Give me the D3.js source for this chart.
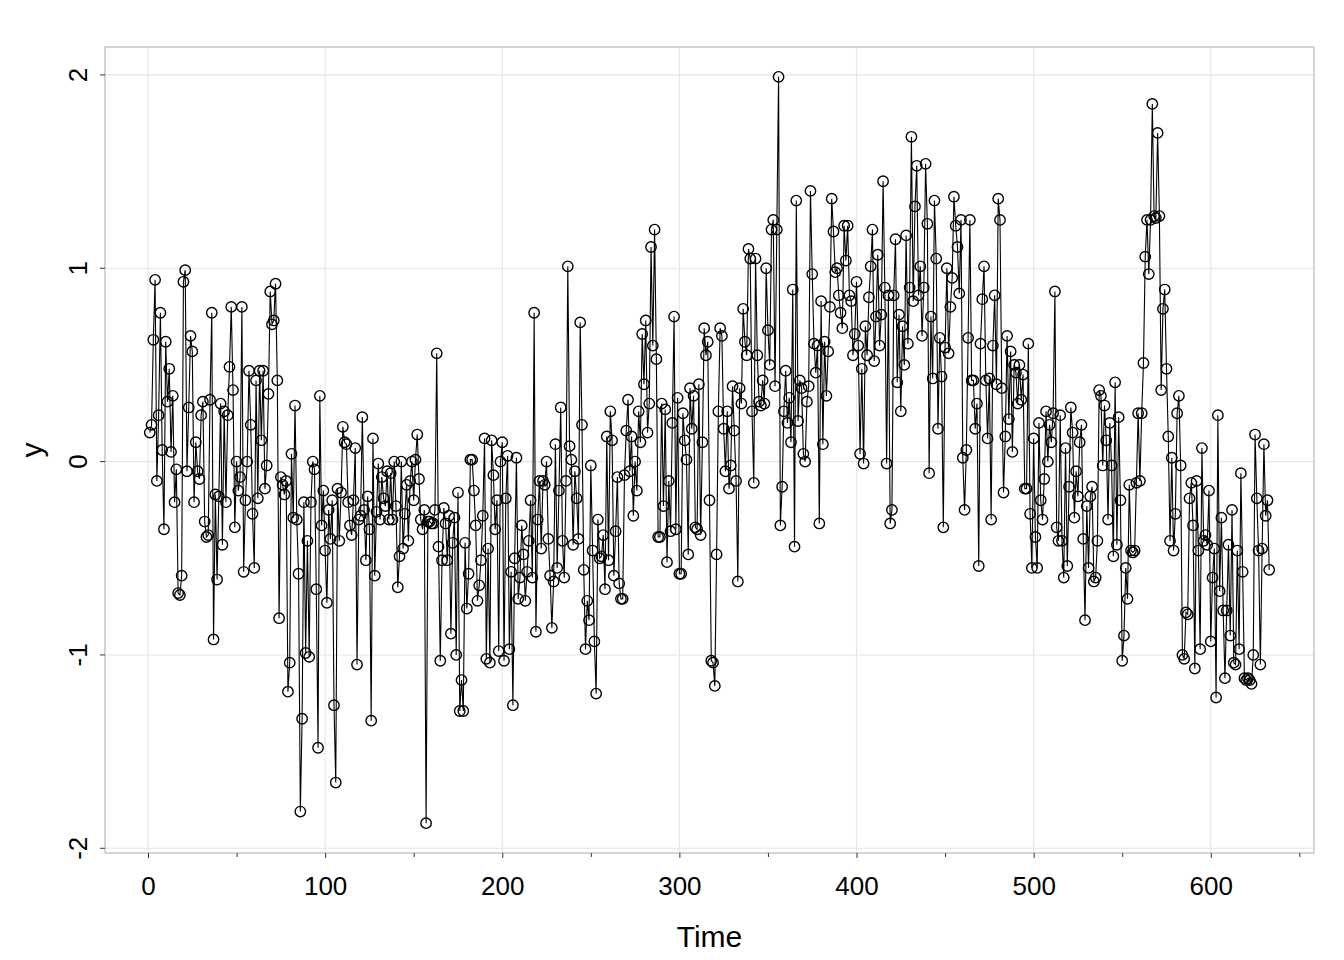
<!DOCTYPE html>
<html><head><meta charset="utf-8">
<script src="https://cdn.jsdelivr.net/npm/d3@7"></script>
<style>body{margin:0;background:#fff}svg{display:block}text{font-family:"Liberation Sans",Arial,sans-serif}</style>
</head><body><svg id="c" width="1344" height="960"></svg>
<script>
const ySeg1 = [0.15,0.19,0.63,0.94,-0.10,0.24,0.77,0.06,-0.35,0.62,
0.31,0.48,0.05,0.34,-0.21,-0.04,-0.68,-0.69,-0.59,0.93,
0.99,-0.05,0.28,0.65,0.57,-0.21,0.10,-0.05,-0.09,0.24,
0.31,-0.31,-0.39,-0.38,0.32,0.77,-0.92,-0.17,-0.61,-0.18,
0.30,-0.43,0.26,-0.21,0.24,0.49,0.80,0.37,-0.34,0.00,
-0.15,-0.08,0.80,-0.57,-0.20,0.00,0.47,0.19,-0.27,-0.55,
0.42,-0.19,0.47,0.11,0.47,-0.14,-0.02,0.35,0.88,0.71,
0.73,0.92,0.42,-0.81,-0.08,-0.12,-0.17,-0.10,-1.19,-1.04,
0.04,-0.29,0.29,-0.30,-0.58,-1.81,-1.33,-0.21,-0.99,-0.41,
-1.01,-0.21,0.00,-0.04,-0.66,-1.48,0.34,-0.33,-0.15,-0.46,
-0.73,-0.25,-0.40,-0.20,-1.26,-1.66,-0.14,-0.41,-0.16,0.18,
0.10,0.09,-0.21,-0.33,-0.38,-0.20,0.07,-1.05,-0.30,-0.28,
0.23,-0.25,-0.51,-0.18,-0.35,-1.34,0.12,-0.59,-0.26,-0.01,
-0.30,-0.08,-0.19];
const ySeg2 = [-0.23,-0.05,-0.30,-0.06,-0.30,0.00,-0.23,-0.65,-0.49,0.00,
-0.45,-0.27,-0.12,-0.41,-0.10,0.00,-0.20,0.01,0.14,-0.09,-0.30,-0.35,-0.25,-1.87,
-0.31,-0.31,-0.32,-0.32,-0.25,0.56,-0.44,-1.03,-0.51,-0.24,
-0.32,-0.51,-0.28,-0.89,-0.42,-0.29,-1.00,-0.16,-1.29,-1.13,
-1.29,-0.42,-0.76,-0.58,0.01,0.01,-0.15,-0.33,-0.72,-0.64,
-0.51,-0.28,0.12,-1.02,-0.45,-1.04,0.11,-0.07,-0.35,-0.20];
const ySeg3 = [-0.98,0.00,0.10,-1.03,-0.19,0.03,-0.97,-0.57,-1.26,-0.50,0.02,
-0.71,-0.60,-0.33,-0.48,-0.72,-0.57,-0.41,-0.20,-0.60,0.77,-0.88,-0.30,
-0.10,-0.45,-0.10,-0.12,0.00,-0.40,-0.59,-0.86,-0.62,0.09,-0.55,-0.15,
0.28,-0.41,-0.60,-0.10,1.01,0.08,0.01,-0.43,-0.05,-0.19,-0.40,
0.72,0.19,-0.56,-0.97,-0.72,-0.82,-0.02,-0.46,-0.93,-1.20,
-0.30,-0.50,-0.49,-0.38,-0.66,0.13,-0.51,0.26,0.11,-0.59,
-0.36,-0.08,-0.63,-0.71,-0.71,-0.07,0.16];
const ySeg4 = [0.32,-0.05,0.13,-0.28,0.00,-0.15,0.26,0.10,0.66,0.40,
0.73,0.15,0.30,1.11,0.60,1.20,0.53,-0.39,-0.39,0.30,
-0.23,0.27,-0.52,-0.10,-0.36,0.20,0.75,-0.35,0.33,-0.58,
-0.58,0.25,0.11,0.01,-0.48,0.38,0.17,0.34,-0.34,-0.35,
0.40,-0.38,0.10,0.69,0.55,0.62,-0.20,-1.03,-1.04,-1.16,
-0.48,0.26,0.69,0.65,0.17,-0.05,0.26,-0.14,-0.02,0.39,
0.16,-0.10,-0.62,0.38,0.30,0.79];
const ySeg5 = [0.62,0.55,1.10,1.05,0.26,-0.11,1.05,0.55,0.31,0.29,
0.42,0.30,1.00,0.68,0.50,1.20,1.25,0.39,1.20,1.99,
-0.33,-0.13,0.26,0.47,0.20,0.33,0.10,0.89,-0.44,1.35,
0.21,0.42,0.38,0.04,0.00,0.31,0.39,1.40,0.97,0.61,
0.46,0.60,-0.32,0.83,0.09,0.62,0.34,0.57,0.80,1.36,
1.19,0.98,1.00,0.86,0.77,0.69,1.22,1.04,1.22,0.86,
0.83,0.55,0.66,0.93,0.60,0.04,0.48,-0.01];
const ySeg6 = [0.70,0.55,0.85,1.01,1.20,0.52,0.75,1.07,0.60,0.76,
1.45,0.90,-0.01,0.86,-0.32,-0.25,0.86,1.15,0.41,0.76,
0.26,0.70,0.50,1.17,0.61,0.90,1.68,0.83,1.32,1.53,
0.86,1.01,0.65,0.90,1.54,1.23,-0.06,0.75,0.43,1.35,
1.05,0.17,0.64,0.44,-0.34,0.59,1.00,0.56,0.80,0.95,
1.37,1.22,1.11,0.87,1.25,0.02,-0.25,0.06,0.64,1.25,
0.42,0.42,0.17,0.30,-0.54,0.61,0.84,1.01];
const ySeg7 = [0.42,0.12,0.43,-0.30,0.60,0.86,0.40,1.36,1.25,0.38,
-0.16,0.13,0.65,0.22,0.57,0.05,0.50,0.46,0.30,0.50,
0.32,0.45,-0.14,-0.14,0.61,-0.27,-0.55,0.12,-0.39,
-0.55,0.20,-0.20,-0.30,-0.09,0.26,0.00,0.19,0.10,
0.25,0.88,-0.34,-0.41,0.24,-0.41,-0.60,0.07,-0.54,-0.13,
0.28,0.15,-0.29,-0.05,-0.18,0.10,0.19,-0.40,-0.82,-0.23,
-0.55,-0.18,-0.13,-0.62,-0.60,-0.41,0.37,0.34];
const ySeg8 = [-0.02,0.29,0.11,-0.30,0.20,-0.02,-0.49,0.41,-0.43,0.23,
-0.20,-1.03,-0.90,-0.55,-0.71,-0.12,-0.46,-0.47,-0.46,-0.11,
0.25,-0.10,0.25,0.51,1.06,1.25,0.97,1.25,1.85,1.27,
1.26,1.70,1.27,0.37,0.79,0.89,0.48,0.13,-0.41,0.02,
-0.46,-0.27,0.25,0.34,-0.02,-1.00,-1.02,-0.78,-0.79,-0.19,
-0.11,-0.33,-1.07,-0.10,-0.46,-0.97,0.07,-0.41,-0.38,-0.43,-0.15,-0.93];
const ySeg9 = [-0.60,-0.45,-1.22,0.24,-0.67,-0.29,-0.77,-1.12,-0.77,-0.43,
-0.90,-0.25,-1.04,-1.05,-0.46,-0.97,-0.06,-0.57,-1.12,-1.13,
-1.12,-1.13,-1.15,-1.00,0.14,-0.19,-0.46,-1.05,-0.45,0.09,-0.28,-0.20,-0.56];
const xTicks = [0,100,200,300,400,500,600];
const xMinorTicks = [50,150,250,350,450,550,650];
const yTicks = [-2,-1,0,1,2];
const xTitle = "Time", yTitle = "y";

const values = [].concat(ySeg1,ySeg2,ySeg3,ySeg4,ySeg5,ySeg6,ySeg7,ySeg8,ySeg9);
const data = values.map((v,i)=>({t:i+1,y:v}));

const L=105,R=1314,T=47,B=853;
const xe=d3.extent(data,d=>d.t), ye=d3.extent(data,d=>d.y);
const xp=(xe[1]-xe[0])*0.04, yp=(ye[1]-ye[0])*0.04;
const x=d3.scaleLinear().domain([xe[0]-xp,xe[1]+xp]).range([L,R]);
const y=d3.scaleLinear().domain([ye[0]-yp,ye[1]+yp]).range([B,T]);
const svg=d3.select("#c");
const grid="#e5e5e5", border="#b3b3b3";
const fmt=d=>String(d).replace("\u2212","-");
svg.append("g").selectAll("line").data(xTicks).join("line")
 .attr("x1",d=>x(d)).attr("x2",d=>x(d)).attr("y1",T).attr("y2",B).attr("stroke",grid).attr("stroke-width",1.1);
svg.append("g").selectAll("line").data(yTicks).join("line")
 .attr("y1",d=>y(d)).attr("y2",d=>y(d)).attr("x1",L).attr("x2",R).attr("stroke",grid).attr("stroke-width",1.1);

svg.append("path").datum(data).attr("fill","none").attr("stroke","#000").attr("stroke-width",1.1)
 .attr("d",d3.line().x(d=>x(d.t)).y(d=>y(d.y)));
svg.append("g").selectAll("circle").data(data).join("circle")
 .attr("cx",d=>x(d.t)).attr("cy",d=>y(d.y)).attr("r",5.2)
 .attr("fill","none").attr("stroke","#000").attr("stroke-width",1.4);

svg.append("rect").attr("x",L).attr("y",T).attr("width",R-L).attr("height",B-T)
 .attr("fill","none").attr("stroke",border).attr("stroke-width",1.1);

const xm=svg.append("g").attr("transform",`translate(0,${B})`)
 .call(d3.axisBottom(x).tickValues(xMinorTicks).tickSize(4).tickFormat(""));
xm.select(".domain").remove(); xm.selectAll(".tick line").attr("stroke","#333");
const xa=svg.append("g").attr("transform",`translate(0,${B})`)
 .call(d3.axisBottom(x).tickValues(xTicks).tickSize(5).tickPadding(19).tickFormat(fmt));
const ya=svg.append("g").attr("transform",`translate(${L},0)`)
 .call(d3.axisLeft(y).tickValues(yTicks).tickSize(5).tickFormat(fmt));
[xa,ya].forEach(a=>{a.select(".domain").remove();a.selectAll(".tick line").attr("stroke","#333");
 a.selectAll("text").attr("font-size",26).attr("fill","#000").attr("font-family","Liberation Sans, Arial, sans-serif");});
ya.selectAll(".tick").attr("transform",null);
ya.selectAll(".tick line").attr("y1",d=>y(d)).attr("y2",d=>y(d));
ya.selectAll(".tick text").attr("text-anchor","middle").attr("dy",null).attr("x",null).attr("y",null)
 .attr("dominant-baseline","central")
 .attr("transform",d=>`translate(${78-L},${y(d)}) rotate(-90)`);

svg.append("text").attr("x",(L+R)/2).attr("y",947).attr("text-anchor","middle").attr("font-size",30).text(xTitle);
svg.append("text").attr("transform",`translate(42,${(T+B)/2}) rotate(-90)`).attr("text-anchor","middle").attr("font-size",30).text(yTitle);
</script></body></html>
